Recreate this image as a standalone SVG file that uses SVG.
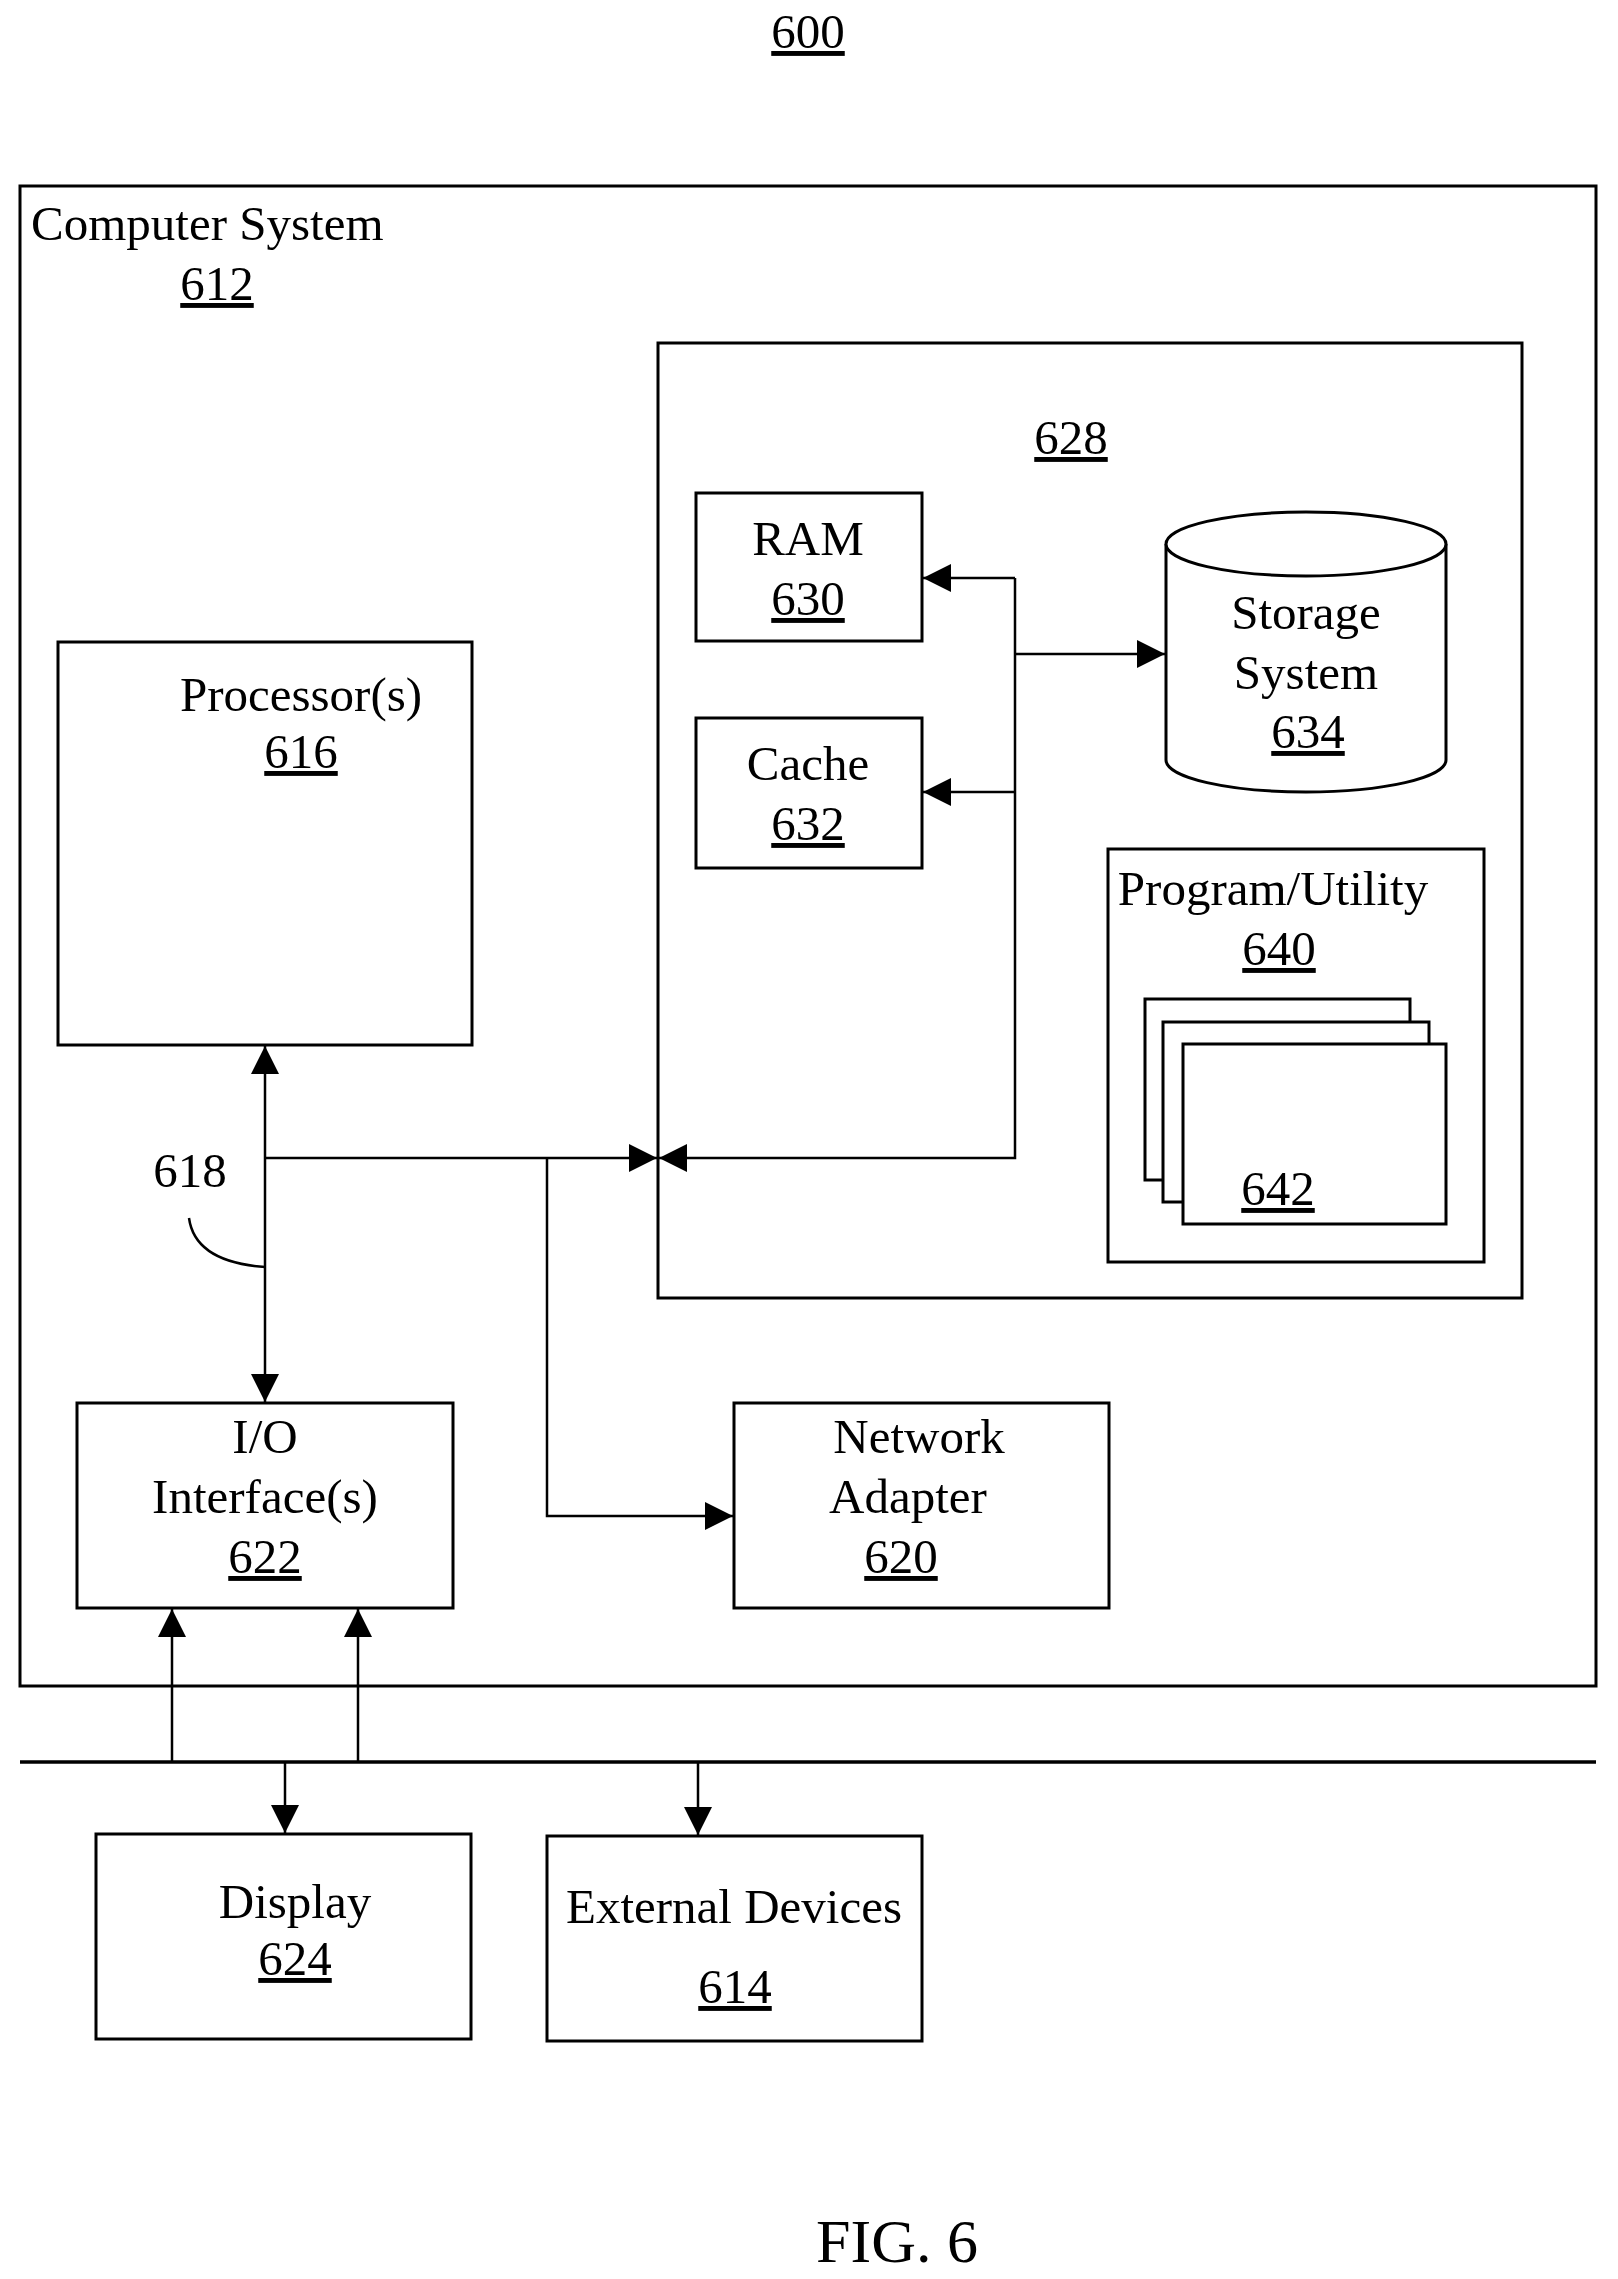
<svg xmlns="http://www.w3.org/2000/svg" width="1618" height="2279" viewBox="0 0 1618 2279">
<defs>
<marker id="ah" viewBox="0 0 10 10" refX="10" refY="5" markerWidth="28" markerHeight="28" markerUnits="userSpaceOnUse" orient="auto"><path d="M0,0L10,5L0,10Z" fill="#000"/></marker>
</defs>
<style>
text{font-family:"Liberation Serif","Times New Roman",serif;font-size:49px;fill:#000;text-anchor:middle}
.u{text-decoration:underline}
.l{text-anchor:start}
rect,path.s,ellipse{fill:#fff;stroke:#000;stroke-width:3}
.c line,.c path{stroke:#000;stroke-width:2.5;fill:none}
</style>
<rect width="1618" height="2279" fill="#fff" style="stroke:none"/>
<text x="808" y="48" class="u">600</text>
<g id="computer"><rect x="20" y="186" width="1576" height="1500"/>
<text x="31" y="240" class="l">Computer System</text><text x="217" y="300" class="u">612</text></g>
<g id="mem"><rect x="658" y="343" width="864" height="955"/><text x="1071" y="454" class="u">628</text></g>
<g id="ram"><rect x="696" y="493" width="226" height="148"/><text x="808" y="555">RAM</text><text x="808" y="615" class="u">630</text></g>
<g id="cache"><rect x="696" y="718" width="226" height="150"/><text x="808" y="780">Cache</text><text x="808" y="840" class="u">632</text></g>
<g id="storage"><path class="s" d="M1166,544 V760 A140,32 0 0 0 1446,760 V544"/><ellipse cx="1306" cy="544" rx="140" ry="32"/>
<text x="1306" y="629">Storage</text><text x="1306" y="689">System</text><text x="1308" y="748" class="u">634</text></g>
<g id="prog"><rect x="1108" y="849" width="376" height="413"/><text x="1273" y="905">Program/Utility</text><text x="1279" y="965" class="u">640</text>
<rect x="1145" y="999" width="265" height="181"/><rect x="1163" y="1022" width="266" height="180"/><rect x="1183" y="1044" width="263" height="180"/><text x="1278" y="1205" class="u">642</text></g>
<g id="proc"><rect x="58" y="642" width="414" height="403"/><text x="301" y="711">Processor(s)</text><text x="301" y="768" class="u">616</text></g>
<g id="io"><rect x="77" y="1403" width="376" height="205"/><text x="265" y="1453">I/O</text><text x="265" y="1513">Interface(s)</text><text x="265" y="1573" class="u">622</text></g>
<g id="net"><rect x="734" y="1403" width="375" height="205"/><text x="919" y="1453">Network</text><text x="908" y="1513">Adapter</text><text x="901" y="1573" class="u">620</text></g>
<g id="display"><rect x="96" y="1834" width="375" height="205"/><text x="295" y="1918">Display</text><text x="295" y="1975" class="u">624</text></g>
<g id="ext"><rect x="547" y="1836" width="375" height="205"/><text x="734" y="1923">External Devices</text><text x="735" y="2003" class="u">614</text></g>
<text x="190" y="1187">618</text>
<text x="897" y="2262" style="font-size:62px">FIG. 6</text>
<g class="c">
<line x1="265" y1="1158" x2="265" y2="1046" marker-end="url(#ah)"/>
<line x1="265" y1="1158" x2="265" y2="1402" marker-end="url(#ah)"/>
<line x1="265" y1="1158" x2="657" y2="1158" marker-end="url(#ah)"/>
<path d="M1015,578 V1158 H659" marker-end="url(#ah)"/>
<line x1="1015" y1="578" x2="923" y2="578" marker-end="url(#ah)"/>
<line x1="1015" y1="792" x2="923" y2="792" marker-end="url(#ah)"/>
<line x1="1015" y1="654" x2="1165" y2="654" marker-end="url(#ah)"/>
<path d="M547,1158 V1516 H733" marker-end="url(#ah)"/>
<path d="M189,1218 Q195,1262 265,1267"/>
<line x1="20" y1="1762" x2="1596" y2="1762" style="stroke-width:3.5"/>
<line x1="172" y1="1762" x2="172" y2="1609" marker-end="url(#ah)"/>
<line x1="358" y1="1762" x2="358" y2="1609" marker-end="url(#ah)"/>
<line x1="285" y1="1762" x2="285" y2="1833" marker-end="url(#ah)"/>
<line x1="698" y1="1762" x2="698" y2="1835" marker-end="url(#ah)"/>
</g>
</svg>
